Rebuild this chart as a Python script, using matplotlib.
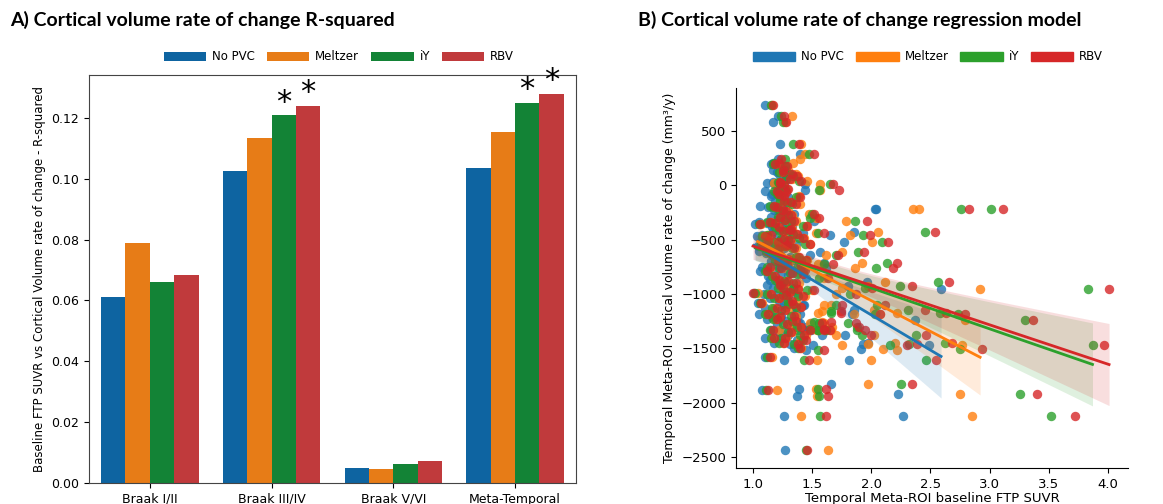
import matplotlib
matplotlib.use("Agg")
import matplotlib.pyplot as plt
from matplotlib.patches import Patch
import numpy as np

# ---- panel A data: R-squared per region / PVC method
regions = ["Braak I/II", "Braak III/IV", "Braak V/VI", "Meta-Temporal"]
methods = ["No PVC", "Meltzer", "iY", "RBV"]
r2_nopvc = [0.061, 0.1025, 0.0050, 0.1035]
r2_meltzer = [0.079, 0.1135, 0.0045, 0.1155]
r2_iy = [0.066, 0.121, 0.0063, 0.125]
r2_rbv = [0.0685, 0.124, 0.0073, 0.128]
# significance stars (region index, method index)
stars = [(1, 2), (1, 3), (3, 2), (3, 3)]

# ---- panel B data: one volume change per subject, SUVR per PVC method
vol_change = [740, 640, 580, 380, 290, 240, 210, 140, 100, 40,
              20, 15, -40, -50, -100, -190, -222, -222, -300, -326,
              -340, -428, -458, -470, -525, -610, -712, -764, -887, -926,
              -957, -990, -1147, -1177, -1184, -1239, -1376, -1462, -1453, -1466,
              -1510, -1514, -1606, -1829, -1921, -2126, -2126, -2432, -1940, -1880,
              -1870, -1580, -1610,
              -1400, -1400, -1380, -1330, -1320, -1300, -1280, -1260, -1230, -1200,
              -1180, -1170, -1150, -1120, -1100, -1080, -1060, -1040, -1020, -1000,
              -980, -960, -940, -920, -900, -880, -850, -830, -810, -790,
              -780, -760, -740, -720, -700, -680, -660, -640, -620, -600,
              -580, -560, -540, -520, -500, -480, -460, -440, -420, -400,
              -370, -350, -320, -290, -260, -240, -200, -170, -140, -110,
              -80, -30, 0, 60, 120, 180, 200, -1420, -1460, -1500,
              -1330, -1270,
              -1270, -1300, -1330, -1330, -1160, -1330, -1380, -1470, -1100, -1180,
              -940, -1000,
              -1450, -1350, -1250, -1210, -1130, -1090, -1010, -950, -870, -820,
              -750, -730, -690, -650, -590, -550, -510, -490, -450, -410,
              -380, -330, -270, -230, -150, -60, 30, 90, -560, -360]
suvr_nopvc = [1.10, 1.21, 1.17, 1.23, 1.40, 1.21, 1.17, 1.17, 1.22, 1.27,
              1.12, 1.44, 1.44, 1.10, 1.15, 1.06, 2.03, 2.04, 1.30, 1.52,
              1.05, 1.85, 1.65, 1.03, 1.77, 1.57, 1.60, 1.62, 1.96, 1.80,
              2.59, 1.01, 1.85, 2.04, 1.84, 2.37, 1.78, 1.93, 1.97, 2.49,
              1.91, 1.45, 1.81, 1.66, 2.23, 2.27, 1.26, 1.27, 1.37, 1.08,
              1.39, 1.10, 1.26,
              1.10, 1.20, 1.30, 1.15, 1.27, 1.32, 1.20, 1.38, 1.12, 1.24,
              1.05, 1.36, 1.18, 1.28, 1.42, 1.04, 1.22, 1.14, 1.30, 1.09,
              1.25, 1.35, 1.17, 1.12, 1.28, 1.20, 1.45, 1.13, 1.24, 1.06,
              1.33, 1.18, 1.27, 1.40, 1.15, 1.22, 1.31, 1.48, 1.11, 1.05,
              1.26, 1.19, 1.36, 1.14, 1.23, 1.29, 1.08, 1.42, 1.17, 1.25,
              1.33, 1.12, 1.20, 1.15, 1.35, 1.21, 1.13, 1.26, 1.19, 1.30,
              1.16, 1.23, 1.19, 1.25, 1.20, 1.24, 1.15, 1.37, 1.31, 1.35,
              1.45, 1.49,
              1.40, 1.45, 1.38, 1.44, 1.36, 1.49, 1.58, 1.51, 1.43, 1.40,
              1.35, 1.37,
              1.18, 1.22, 1.28, 1.16, 1.10, 1.26, 1.20, 1.29, 1.14, 1.30,
              1.08, 1.21, 1.34, 1.17, 1.13, 1.24, 1.07, 1.19, 1.31, 1.22,
              1.16, 1.27, 1.24, 1.18, 1.25, 1.21, 1.17, 1.28, 1.04, 1.02]
suvr_meltzer = [1.16, 1.33, 1.27, 1.41, 1.44, 1.40, 1.34, 1.30, 1.36, 1.46,
                1.18, 1.57, 1.57, 1.26, 1.39, 1.20, 2.35, 2.40, 1.53, 1.79,
                1.15, 2.06, 1.82, 1.09, 2.01, 1.75, 1.92, 1.86, 2.12, 1.97,
                2.92, 1.04, 2.02, 2.22, 2.07, 2.79, 2.02, 1.97, 2.20, 2.77,
                2.10, 2.22, 2.00, 1.97, 2.75, 2.85, 1.41, 1.63, 1.54, 1.20,
                1.53, 1.16, 1.54,
                1.16, 1.28, 1.45, 1.22, 1.51, 1.40, 1.31, 1.58, 1.19, 1.36,
                1.12, 1.55, 1.30, 1.40, 1.60, 1.08, 1.36, 1.22, 1.44, 1.14,
                1.31, 1.50, 1.24, 1.27, 1.39, 1.28, 1.60, 1.17, 1.34, 1.12,
                1.42, 1.26, 1.45, 1.55, 1.21, 1.33, 1.38, 1.62, 1.16, 1.14,
                1.36, 1.28, 1.48, 1.20, 1.32, 1.43, 1.13, 1.53, 1.27, 1.33,
                1.45, 1.18, 1.29, 1.24, 1.47, 1.30, 1.19, 1.40, 1.25, 1.38,
                1.22, 1.29, 1.25, 1.33, 1.24, 1.28, 1.21, 1.40, 1.38, 1.41,
                1.54, 1.48,
                1.60, 1.67, 1.56, 1.66, 1.58, 1.62, 1.70, 1.75, 1.66, 1.85,
                1.75, 1.70,
                1.25, 1.33, 1.35, 1.22, 1.18, 1.32, 1.28, 1.38, 1.22, 1.40,
                1.15, 1.30, 1.46, 1.24, 1.22, 1.30, 1.12, 1.27, 1.36, 1.30,
                1.21, 1.36, 1.33, 1.24, 1.31, 1.26, 1.23, 1.38, 1.10, 1.07]
suvr_iy = [1.15, 1.24, 1.25, 1.34, 1.47, 1.27, 1.18, 1.26, 1.31, 1.39,
           1.22, 1.65, 1.56, 1.18, 1.22, 1.14, 2.76, 3.01, 1.48, 1.86,
           1.12, 2.45, 1.93, 1.08, 2.09, 1.89, 2.13, 2.04, 2.56, 2.24,
           3.83, 1.02, 2.31, 2.58, 2.73, 3.30, 2.38, 2.32, 2.62, 3.87,
           2.75, 1.55, 2.46, 2.25, 3.26, 3.52, 1.57, 1.45, 1.56, 1.11,
           1.55, 1.12, 1.43,
           1.15, 1.24, 1.40, 1.14, 1.48, 1.37, 1.25, 1.52, 1.17, 1.32,
           1.10, 1.66, 1.24, 1.36, 1.70, 1.06, 1.30, 1.18, 1.38, 1.12,
           1.28, 1.46, 1.21, 1.24, 1.34, 1.26, 1.56, 1.16, 1.31, 1.10,
           1.40, 1.22, 1.38, 1.60, 1.19, 1.27, 1.36, 1.70, 1.14, 1.11,
           1.33, 1.24, 1.44, 1.18, 1.30, 1.39, 1.12, 1.55, 1.22, 1.30,
           1.42, 1.16, 1.26, 1.21, 1.50, 1.25, 1.17, 1.33, 1.23, 1.36,
           1.20, 1.27, 1.24, 1.28, 1.22, 1.27, 1.17, 1.42, 1.35, 1.38,
           1.55, 1.56,
           1.80, 1.88, 1.62, 1.55, 1.66, 1.88, 1.92, 2.16, 2.05, 2.03,
           1.95, 1.82,
           1.22, 1.30, 1.33, 1.19, 1.16, 1.30, 1.25, 1.34, 1.19, 1.37,
           1.12, 1.26, 1.41, 1.21, 1.19, 1.27, 1.11, 1.24, 1.34, 1.28,
           1.19, 1.32, 1.30, 1.22, 1.29, 1.25, 1.21, 1.34, 1.06, 1.05]
suvr_rbv = [1.17, 1.26, 1.28, 1.39, 1.52, 1.24, 1.22, 1.25, 1.33, 1.41,
            1.23, 1.68, 1.73, 1.20, 1.26, 1.18, 2.83, 3.11, 1.56, 1.96,
            1.14, 2.54, 1.99, 1.10, 2.14, 1.94, 2.22, 2.18, 2.66, 2.34,
            4.01, 1.00, 2.45, 2.63, 2.79, 3.37, 2.46, 2.39, 2.68, 3.97,
            2.94, 1.60, 2.55, 2.34, 3.40, 3.72, 1.62, 1.46, 1.63, 1.13,
            1.62, 1.14, 1.47,
            1.18, 1.27, 1.43, 1.17, 1.60, 1.41, 1.29, 1.66, 1.20, 1.35,
            1.13, 1.74, 1.27, 1.41, 1.75, 1.07, 1.33, 1.22, 1.42, 1.15,
            1.31, 1.52, 1.25, 1.23, 1.36, 1.30, 1.63, 1.19, 1.33, 1.12,
            1.44, 1.24, 1.41, 1.68, 1.21, 1.30, 1.39, 1.72, 1.16, 1.13,
            1.35, 1.27, 1.48, 1.21, 1.31, 1.42, 1.15, 1.60, 1.25, 1.32,
            1.46, 1.19, 1.27, 1.23, 1.52, 1.28, 1.20, 1.36, 1.26, 1.40,
            1.22, 1.30, 1.26, 1.31, 1.25, 1.29, 1.19, 1.45, 1.38, 1.40,
            1.48, 1.58,
            1.87, 1.90, 1.65, 1.60, 1.74, 1.95, 2.00, 2.30, 2.12, 2.07,
            2.01, 1.87,
            1.26, 1.32, 1.36, 1.23, 1.20, 1.34, 1.28, 1.38, 1.22, 1.42,
            1.14, 1.29, 1.45, 1.23, 1.21, 1.29, 1.13, 1.26, 1.37, 1.31,
            1.22, 1.35, 1.32, 1.25, 1.32, 1.28, 1.23, 1.37, 1.08, 1.06]

bar_colors = ["#0e64a1", "#e77c17", "#138336", "#c03a3c"]
pt_colors = ["#1f77b4", "#ff7f0e", "#2ca02c", "#d62728"]

fig = plt.figure(figsize=(11.63, 5.04), dpi=100)

# ---------------- panel A
axA = fig.add_axes([0.0765, 0.0417, 0.4187, 0.8095])
r2_all = [r2_nopvc, r2_meltzer, r2_iy, r2_rbv]
xpos = np.arange(len(regions))
w = 0.2
for i, vals in enumerate(r2_all):
    axA.bar(xpos - 0.3 + i * w, vals, width=w, color=bar_colors[i],
            linewidth=0, label=methods[i])
for g, m in stars:
    axA.text(g - 0.3 + m * w, r2_all[m][g] + 0.0042, "*", ha="center",
             va="center", fontsize=22)
axA.set_xlim(-0.5, 3.5)
axA.set_ylim(0, 0.1341)
axA.set_xticks(xpos)
axA.set_xticklabels(regions, fontsize=9)
axA.set_yticks(np.arange(0, 0.13, 0.02))
axA.set_yticklabels(["%.2f" % v for v in np.arange(0, 0.13, 0.02)], fontsize=9)
axA.set_ylabel("Baseline FTP SUVR vs Cortical Volume rate of change - R-squared",
               fontsize=8.5)
for s in axA.spines.values():
    s.set_color("#444444")
axA.legend(loc="center", bbox_to_anchor=(0.2915, 0.887),
           bbox_transform=fig.transFigure, ncol=4, frameon=False,
           fontsize=8.5, handlelength=3.6, handleheight=0.8,
           handletextpad=0.5, columnspacing=1.0)

# ---------------- panel B
axB = fig.add_axes([0.6328, 0.0714, 0.3371, 0.754])
y = np.array(vol_change, dtype=float)
suvr_all = [suvr_nopvc, suvr_meltzer, suvr_iy, suvr_rbv]
for i, xs in enumerate(suvr_all):
    axB.scatter(xs, y, s=46, color=pt_colors[i], alpha=0.8, linewidths=0)
for i, xs in enumerate(suvr_all):
    x = np.array(xs)
    b, a = np.polyfit(x, y, 1)
    grid = np.linspace(x.min(), x.max(), 100)
    fit = a + b * grid
    n = len(x)
    resid = y - (a + b * x)
    s_err = np.sqrt(np.sum(resid ** 2) / (n - 2))
    sxx = np.sum((x - x.mean()) ** 2)
    half = 1.97 * s_err * np.sqrt(1.0 / n + (grid - x.mean()) ** 2 / sxx)
    axB.fill_between(grid, fit - half, fit + half, color=pt_colors[i],
                     alpha=0.15, linewidth=0)
    axB.plot(grid, fit, color=pt_colors[i], lw=2)
axB.set_xlim(0.856, 4.17)
axB.set_ylim(-2601, 896)
axB.set_xticks([1.0, 1.5, 2.0, 2.5, 3.0, 3.5, 4.0])
axB.tick_params(labelsize=9.5)
axB.spines["top"].set_visible(False)
axB.spines["right"].set_visible(False)
axB.set_xlabel("Temporal Meta-ROI baseline FTP SUVR", fontsize=9.5, labelpad=1)
axB.set_ylabel("Temporal Meta-ROI cortical volume rate of change (mm³/y)",
               fontsize=9)
handles = [Patch(color=pt_colors[i], label=methods[i]) for i in range(4)]
axB.legend(handles=handles, loc="center", bbox_to_anchor=(0.798, 0.887),
           bbox_transform=fig.transFigure, ncol=4, frameon=False,
           fontsize=8.5, handlelength=3.6, handleheight=0.8,
           handletextpad=0.5, columnspacing=1.0)

# ---------------- titles
fig.text(10 / 1163, 1 - 20 / 504, "A) Cortical volume rate of change R-squared",
         fontsize=14, fontweight="bold", family="Lato", va="center")
fig.text(638 / 1163, 1 - 20 / 504,
         "B) Cortical volume rate of change regression model",
         fontsize=14, fontweight="bold", family="Lato", va="center")

fig.savefig("out.png", dpi=100)
